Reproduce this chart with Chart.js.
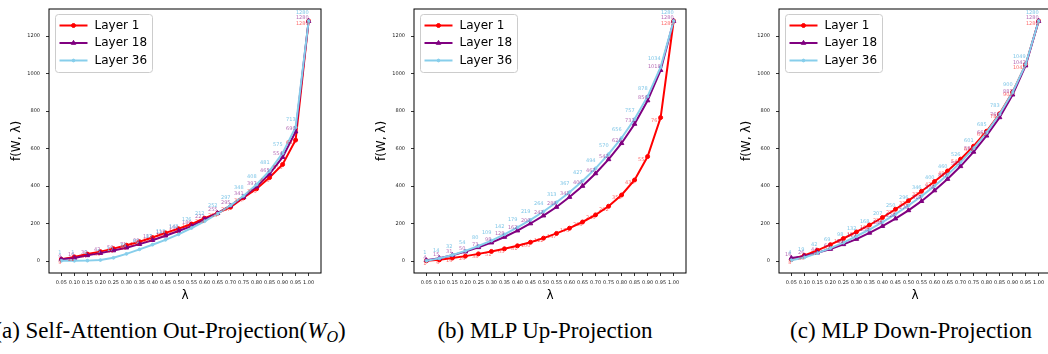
<!DOCTYPE html>
<html>
<head>
<meta charset="utf-8">
<script src="https://cdn.jsdelivr.net/npm/chart.js@4.4.1/dist/chart.umd.min.js"></script>
<style>
  html, body { margin: 0; padding: 0; background: #fff; }
  body { width: 1048px; height: 354px; position: relative; overflow: hidden; }
  canvas.panel { position: absolute; top: 0; }
  .caption {
    position: absolute; top: 319px;
    font-family: "Liberation Serif", "Times New Roman", serif;
    font-size: 23px; line-height: 23px; white-space: nowrap;
    transform: translateX(-50%); color: #000;
  }
  .caption sub { font-size: 70%; vertical-align: -0.25em; line-height: 0; }
</style>
</head>
<body>
<canvas id="chart-a" class="panel" width="329" height="305" style="left:0px"></canvas>
<canvas id="chart-b" class="panel" width="329" height="305" style="left:365px"></canvas>
<canvas id="chart-c" class="panel" width="329" height="305" style="left:730px"></canvas>

<div class="caption" style="left:170px">(a) Self-Attention Out-Projection(<i>W</i><sub><i>O</i></sub>)</div>
<div class="caption" style="left:545px">(b) MLP Up-Projection</div>
<div class="caption" style="left:911px">(c) MLP Down-Projection</div>

<script>
// λ values on the x axis
const lambdas = [0.05, 0.10, 0.15, 0.20, 0.25, 0.30, 0.35, 0.40, 0.45, 0.50,
                 0.55, 0.60, 0.65, 0.70, 0.75, 0.80, 0.85, 0.90, 0.95, 1.00];

const seriesNames = ['Layer 1', 'Layer 18', 'Layer 36'];

// (a) Self-Attention Out-Projection
const attnLayer1  = [9, 22, 37, 50, 66, 84, 103, 125, 150, 172, 197, 228, 255, 287, 337, 385, 445, 515, 645, 1280];
const attnLayer18 = [9, 16, 30, 42, 56, 71, 90, 111, 135, 160, 186, 222, 255, 295, 341, 397, 465, 554, 690, 1280];
const attnLayer36 = [1, 1, 2, 5, 17, 38, 62, 87, 113, 142, 176, 212, 252, 297, 348, 408, 481, 575, 713, 1280];

// (b) MLP Up-Projection
const upLayer1  = [1, 6, 16, 26, 38, 51, 65, 81, 100, 122, 147, 175, 208, 246, 292, 352, 432, 557, 765, 1280];
const upLayer18 = [4, 15, 31, 50, 73, 98, 128, 162, 200, 242, 288, 341, 400, 467, 542, 628, 731, 856, 1018, 1280];
const upLayer36 = [1, 14, 32, 54, 80, 109, 142, 179, 219, 264, 313, 367, 427, 494, 570, 656, 757, 878, 1034, 1280];

// (c) MLP Down-Projection
const downLayer1  = [8, 30, 57, 87, 120, 155, 192, 232, 276, 322, 372, 424, 480, 543, 612, 692, 785, 901, 1047, 1280];
const downLayer18 = [16, 26, 44, 64, 89, 117, 150, 186, 226, 270, 319, 376, 437, 505, 582, 668, 766, 887, 1042, 1280];
const downLayer36 = [4, 19, 42, 69, 98, 132, 168, 207, 250, 296, 346, 400, 460, 526, 601, 685, 783, 900, 1049, 1280];

// y axis ticks
const yTicks = [0, 200, 400, 600, 800, 1000, 1200];

const FONT = '"DejaVu Sans", sans-serif';

const styles = [
  { color: '#ff0000', textColor: 'rgba(255,0,0,0.6)',     pointStyle: 'circle',   radius: 2,   textOffset: 3 },
  { color: '#800080', textColor: 'rgba(128,0,128,0.6)',   pointStyle: 'triangle', radius: 2.6, textOffset: -3 },
  { color: '#87ceeb', textColor: 'rgba(120,195,230,0.95)', pointStyle: 'circle',   radius: 1.4, textOffset: -8 }
];

// value labels, black frame and matplotlib-like legend
const decorations = {
  id: 'decorations',
  afterDatasetsDraw(chart) {
    const ctx = chart.ctx;
    const area = chart.chartArea;
    ctx.save();

    ctx.font = '5px ' + FONT;
    ctx.textAlign = 'right';
    ctx.textBaseline = 'middle';
    chart.data.datasets.forEach((ds, i) => {
      const meta = chart.getDatasetMeta(i);
      ctx.fillStyle = ds.textColor;
      meta.data.forEach((pt, j) => {
        ctx.fillText(String(ds.data[j].y), pt.x, pt.y + ds.textOffset);
      });
    });

    ctx.strokeStyle = '#000';
    ctx.lineWidth = 1;
    ctx.strokeRect(area.left, area.top, area.right - area.left, area.bottom - area.top);

    // legend
    const bx = Math.round(area.left + 6) + 0.5, by = Math.round(area.top + 5) + 0.5;
    const bw = 97, bh = 58;
    ctx.beginPath();
    if (ctx.roundRect) ctx.roundRect(bx, by, bw, bh, 3); else ctx.rect(bx, by, bw, bh);
    ctx.fillStyle = 'rgba(255,255,255,0.85)';
    ctx.fill();
    ctx.strokeStyle = '#cccccc';
    ctx.lineWidth = 1;
    ctx.stroke();

    chart.data.datasets.forEach((ds, i) => {
      const y = by + 11 + i * 17.5;
      ctx.strokeStyle = ds.borderColor;
      ctx.lineWidth = 2;
      ctx.beginPath();
      ctx.moveTo(bx + 4, y);
      ctx.lineTo(bx + 32, y);
      ctx.stroke();
      ctx.fillStyle = ds.borderColor;
      ctx.lineWidth = 1;
      Chart.helpers.drawPoint(ctx, { pointStyle: ds.pointStyle, radius: ds.pointRadius, borderWidth: 1, rotation: 0 }, bx + 18, y);
      ctx.fillStyle = '#000';
      ctx.font = '12px ' + FONT;
      ctx.textAlign = 'left';
      ctx.textBaseline = 'middle';
      ctx.fillText(ds.label, bx + 39, y);
    });

    ctx.restore();
  }
};

function makeChart(id, layer1, layer18, layer36) {
  const values = [layer1, layer18, layer36];
  const datasets = values.map((vals, i) => ({
    label: seriesNames[i],
    data: lambdas.map((x, j) => ({ x: x, y: vals[j] })),
    borderColor: styles[i].color,
    backgroundColor: styles[i].color,
    borderWidth: 2,
    pointStyle: styles[i].pointStyle,
    pointRadius: styles[i].radius,
    pointBorderWidth: 1,
    pointBackgroundColor: styles[i].color,
    pointBorderColor: styles[i].color,
    textColor: styles[i].textColor,
    textOffset: styles[i].textOffset,
    tension: 0,
    order: 3 - i
  }));

  return new Chart(document.getElementById(id), {
    type: 'line',
    data: { datasets: datasets },
    plugins: [decorations],
    options: {
      responsive: false,
      animation: false,
      devicePixelRatio: 1,
      layout: { padding: { top: 2, right: 8, left: 0, bottom: 0 } },
      plugins: { legend: { display: false }, tooltip: { enabled: false } },
      scales: {
        x: {
          type: 'linear',
          min: 0.0025,
          max: 1.0475,
          ticks: {
            stepSize: 0.05,
            includeBounds: false,
            autoSkip: false,
            maxRotation: 0,
            padding: 4,
            color: '#222',
            font: { size: 5, family: FONT },
            callback: v => Number(v).toFixed(2)
          },
          grid: { drawOnChartArea: false, tickLength: 3, color: '#000', lineWidth: 0.8 },
          border: { display: false },
          title: { display: true, text: 'λ', color: '#000', font: { size: 12, family: FONT }, padding: { top: 0, bottom: 2 } },
          afterFit: s => { s.height = 32; }
        },
        y: {
          type: 'linear',
          min: -64,
          max: 1344,
          afterBuildTicks: s => { s.ticks = yTicks.map(v => ({ value: v })); },
          ticks: {
            padding: 6,
            color: '#222',
            font: { size: 5, family: FONT },
            callback: v => String(v)
          },
          grid: { drawOnChartArea: false, tickLength: 3, color: '#000', lineWidth: 0.8 },
          border: { display: false },
          title: { display: true, text: 'f(W, λ)', color: '#000', font: { size: 12, family: FONT }, padding: { top: 10, bottom: 0 } },
          afterFit: s => { s.width = 49; }
        }
      }
    }
  });
}

makeChart('chart-a', attnLayer1, attnLayer18, attnLayer36);
makeChart('chart-b', upLayer1, upLayer18, upLayer36);
makeChart('chart-c', downLayer1, downLayer18, downLayer36);
</script>
</body>
</html>
